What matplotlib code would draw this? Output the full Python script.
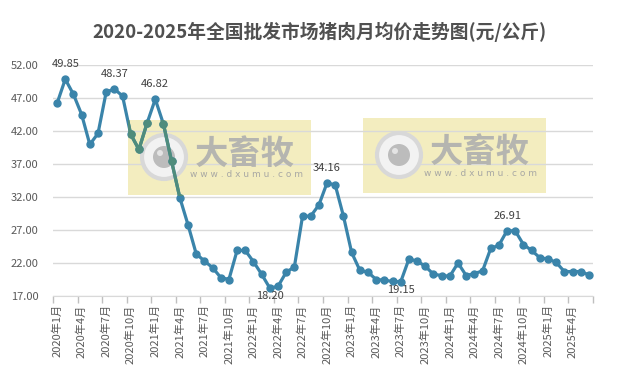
import numpy as np
import matplotlib
matplotlib.use('Agg')
import matplotlib.pyplot as plt
import matplotlib.patches as patches

plt.rcParams['font.family'] = ['Noto Sans CJK SC', 'DejaVu Sans']

# monthly categories 2020-01 .. 2025-06
month_labels = [f'{y}年{m}月' for y in range(2020, 2026) for m in range(1, 13)][:66]

prices = [46.20, 49.85, 47.55, 44.50, 39.96, 41.63, 47.90, 48.37, 47.30, 41.50,
          39.20, 43.20, 46.82, 43.05, 37.40, 31.90, 27.80, 23.40, 22.30, 21.30,
          19.80, 19.50, 23.90, 23.90, 22.20, 20.30, 18.20, 18.46, 20.60, 21.40,
          29.10, 29.10, 30.80, 34.16, 33.80, 29.10, 23.60, 20.90, 20.60, 19.50,
          19.40, 19.20, 19.15, 22.60, 22.30, 21.50, 20.30, 20.10, 20.00, 22.00,
          20.10, 20.40, 20.80, 24.20, 24.70, 26.91, 26.85, 24.80, 23.90, 22.80,
          22.60, 22.10, 20.70, 20.70, 20.70, 20.20]

labels_above = [1, 7, 12, 33, 55]
labels_below = [26, 42]

title = '2020-2025年全国批发市场猪肉月均价走势图(元/公斤)'

W, H = 620, 379


def fx(px):
    return px / W


def fy(py):
    return 1 - py / H


fig = plt.figure(figsize=(6.2, 3.79), dpi=100)
fig.patch.set_facecolor('white')
ax = fig.add_axes([fx(53), fy(296), fx(593) - fx(53), fy(65) - fy(296)])
ax.patch.set_alpha(0)

x = np.arange(len(prices))

# watermarks (pixel boxes of the reference)
wm_boxes = [(128, 120), (363, 118)]
wm_rects = []
for left, top in wm_boxes:
    r = patches.Rectangle((fx(left), fy(top + 75)), 183 / W, 75 / H,
                          transform=fig.transFigure, fc='#f3edbf', ec='none',
                          clip_on=False, zorder=0.4)
    ax.add_patch(r)
    wm_rects.append(r)
    cx, cy = left + 36, top + 37
    ax.add_patch(patches.Ellipse((fx(cx), fy(cy)), 44 / W, 44 / H, transform=fig.transFigure,
                                 fc='#f2f2f2', ec='#d8d8d8', lw=3, clip_on=False, zorder=1))
    ax.add_patch(patches.Ellipse((fx(cx), fy(cy)), 22 / W, 22 / H, transform=fig.transFigure,
                                 fc='#bcbcbc', ec='none', clip_on=False, zorder=1.1))
    ax.add_patch(patches.Ellipse((fx(cx - 4), fy(cy - 4)), 6 / W, 6 / H, transform=fig.transFigure,
                                 fc='#e4e4e4', ec='none', clip_on=False, zorder=1.2))
    ax.text(fx(left + 117), fy(top + 34), '大畜牧', transform=fig.transFigure,
            ha='center', va='center', fontsize=24, fontweight='bold', color='#b5b5b0',
            zorder=1, clip_on=False)
    ax.text(fx(left + 118), fy(top + 55), 'w w w . d x u m u . c o m', transform=fig.transFigure,
            ha='center', va='center', fontsize=6.5, color='#a8a8a4', family='DejaVu Sans',
            zorder=1, clip_on=False)

# price line
ax.plot(x, prices, color='#3a84aa', lw=2.3, marker='o', ms=5, zorder=3, clip_on=False)
for r in wm_rects:
    over, = ax.plot(x, prices, color='#4f8c7c', lw=2.3, marker='o', ms=5, zorder=3.1)
    over.set_clip_path(r)

for i in labels_above:
    ax.annotate(f'{prices[i]:.2f}', (x[i], prices[i]), xytext=(0, 15), textcoords='offset pixels',
                ha='center', va='center', fontsize=8, color='#404040', zorder=4)
for i in labels_below:
    ax.annotate(f'{prices[i]:.2f}', (x[i], prices[i]), xytext=(0, -8), textcoords='offset pixels',
                ha='center', va='center', fontsize=8, color='#404040', zorder=4)

ax.set_xlim(-0.5, len(prices) - 0.5)
ax.set_ylim(17, 52)
ax.set_yticks(np.arange(17, 53, 5))
ax.set_yticklabels([f'{v:.2f}' for v in np.arange(17, 53, 5)])
ax.grid(axis='y', color='#d9d9d9', lw=1)
ax.set_axisbelow(True)

ax.set_xticks(np.arange(-0.5, len(prices), 3))
ax.set_xticklabels([])
ax.set_xticks(x[::3], minor=True)
ax.set_xticklabels(month_labels[::3], minor=True, rotation=90)
ax.tick_params(axis='x', which='major', length=5, color='#bfbfbf', width=1)
ax.tick_params(axis='x', which='minor', length=0, pad=6, labelsize=8, labelcolor='#595959')
ax.tick_params(axis='y', length=0, pad=10.5, labelsize=8, labelcolor='#595959')

for s in ['left', 'right', 'top']:
    ax.spines[s].set_visible(False)
ax.spines['bottom'].set_color('#d9d9d9')

fig.text(fx(320), fy(32), title, ha='center', va='center', fontsize=13.5,
         fontweight='bold', color='#505050')

fig.savefig('out.png', dpi=100)
